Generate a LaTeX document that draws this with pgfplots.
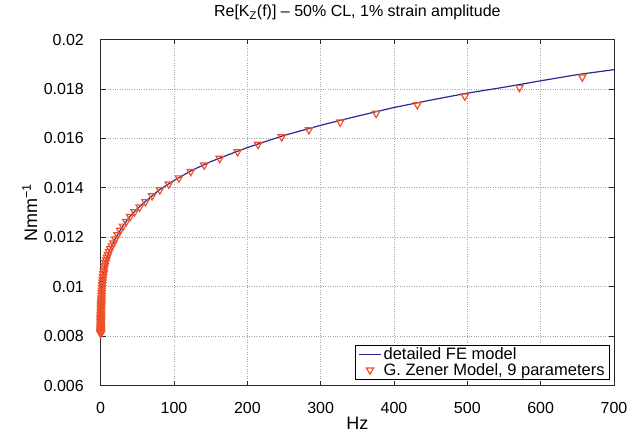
\documentclass[border=0pt]{standalone}
\usepackage{pgfplots}
\pgfplotsset{compat=1.18}
\usepackage{fontspec}
\setmainfont{Liberation Sans}
\definecolor{feblue}{RGB}{40,40,150}
\definecolor{zorange}{RGB}{240,80,40}
\definecolor{axgray}{RGB}{40,40,40}
\pgfplotsset{
  lineleg/.style={legend image code/.code={\draw[##1] (0bp,0bp) -- (22bp,0bp);}},
  markleg/.style={legend image code/.code={\draw[##1] plot coordinates {(11bp,0bp)};}},
}
\begin{document}
\begin{tikzpicture}
\path[use as bounding box] (-100.7bp,-56.3bp) rectangle (527.3bp,385.7bp);
\begin{axis}[
  at={(0,0)}, anchor=south west,
  scale only axis, width=513.3bp, height=346.2bp,
  xmin=0, xmax=700, ymin=0.006, ymax=0.02,
  xtick={0,100,...,700},
  ytick={0.006,0.008,0.01,0.012,0.014,0.016,0.018,0.02},
  yticklabels={0.006,0.008,0.01,0.012,0.014,0.016,0.018,0.02},
  scaled y ticks=false, scaled x ticks=false,
  /pgf/number format/assume math mode=true,
  tick align=inside, tick pos=both, major tick length=5bp,
  axis line style={axgray, line width=0.9bp},
  every tick/.style={axgray, line width=0.9bp},
  grid=major,
  major grid style={gray!70, dotted, line width=0.8bp},
  tick label style={font=\fontsize{16bp}{19bp}\selectfont, inner sep=0pt},
  yticklabel style={xshift=-16.7bp},
  xticklabel style={yshift=-16.5bp},
  xlabel={Hz},
  ylabel={Nmm\textsuperscript{−1}},
  every axis x label/.style={at={(axis description cs:0.5,0)}, anchor=center, yshift=-37.5bp, font=\fontsize{18bp}{21bp}\selectfont},
  every axis y label/.style={at={(axis description cs:0,0.5)}, xshift=-71bp, rotate=90, anchor=center, font=\fontsize{18bp}{21bp}\selectfont},
  title={Re[K\textsubscript{Z}(f)] – 50\% CL, 1\% strain amplitude},
  title style={font=\fontsize{16bp}{19bp}\selectfont, at={(axis description cs:0.5,1)}, anchor=base, yshift=17bp},
  reverse legend,
  legend style={at={(1,0)}, anchor=south east, xshift=-4bp, yshift=5.5bp,
    font=\fontsize{16.5bp}{19bp}\selectfont, draw=black, line width=0.8bp,
    fill=white, inner xsep=3bp, inner ysep=1bp, row sep=-2bp, cells={anchor=west}},
]
\addplot[only marks, mark=triangle, mark size=4.2bp,
  mark options={rotate=180, draw=zorange, fill=white, line width=1.2bp}, markleg]
  table {
f y
656.8 0.01848
571.1 0.01806
496.6 0.01771
431.8 0.01736
375.6 0.01701
326.6 0.01666
284.0 0.01635
246.9 0.01606
214.7 0.01576
186.7 0.01546
162.3 0.01519
141.2 0.01492
122.8 0.01466
106.8 0.01440
92.83 0.01415
80.73 0.01392
70.19 0.01368
61.04 0.01344
53.08 0.01322
46.16 0.01303
40.14 0.01284
34.90 0.01264
30.35 0.01245
26.39 0.01228
22.95 0.01210
19.96 0.01193
17.36 0.01177
15.09 0.01165
13.13 0.01154
11.41 0.01142
9.921 0.01130
8.626 0.01119
7.502 0.01108
6.523 0.01097
5.672 0.01086
4.932 0.01075
4.289 0.01063
3.730 0.01052
3.243 0.01041
2.820 0.01030
2.452 0.01019
2.132 0.01008
1.854 0.00997
1.612 0.00986
1.403 0.00976
1.219 0.00965
1.061 0.00954
0.922 0.00945
0.802 0.00938
0.697 0.00931
0.606 0.00923
0.527 0.00916
0.458 0.00909
0.399 0.00901
0.346 0.00894
0.302 0.00887
0.262 0.00881
0.228 0.00875
0.198 0.00869
0.172 0.00863
0.150 0.00857
0.131 0.00851
0.113 0.00845
0.0986 0.00839
0.0857 0.00835
0.0745 0.00831
0.0648 0.00826
0.0564 0.00822
0.0490 0.00818
0.0426 0.00814
0.0370 0.00810
};
\addlegendentry{G. Zener Model, 9 parameters}
\addplot[feblue, line width=1.2bp, no marks, lineleg]
  table {
f y
0.05 0.00819
0.2 0.00870
0.5 0.00914
1 0.00950
2 0.01004
3 0.01036
5 0.01077
7.5 0.01109
10 0.01132
15 0.01166
20 0.01195
30 0.01245
40 0.01285
50 0.01316
60 0.01343
80 0.01392
100 0.01430
125 0.01472
150 0.01506
175 0.01535
200 0.01563
250 0.01612
300 0.01653
350 0.01690
400 0.01725
450 0.01755
500 0.01783
550 0.01807
600 0.01833
650 0.01858
700 0.01878
};
\addlegendentry{detailed FE model}
\end{axis}
\end{tikzpicture}
\end{document}
